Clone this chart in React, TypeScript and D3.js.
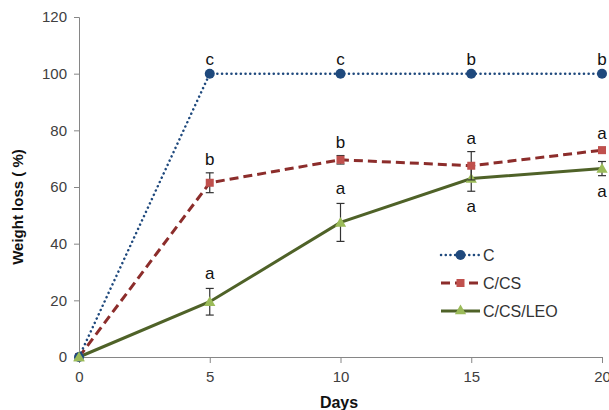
import { useRef, useEffect } from 'react';
import * as d3 from 'd3';

// data
const days = [0, 5, 10, 15, 20];
const cValues = [0, 100, 100, 100, 100];
const csValues = [0, 61.5, 69.6, 67.5, 73];
const csErrors = [0, 3.5, 1.5, 5, 1];
const leoValues = [0, 19.5, 47.5, 63, 66.5];
const leoErrors = [0, 4.7, 6.7, 4.5, 2.5];
const cLetters = ['', 'c', 'c', 'b', 'b'];
const csLetters = ['', 'b', 'b', 'a', 'a'];
const leoLetters = ['', 'a', 'a', 'a', 'a'];
const leoLetterSide = ['', 'above', 'above', 'below', 'below'];
const yTicks = [0, 20, 40, 60, 80, 100, 120];
const xTicks = [0, 5, 10, 15, 20];
const legendNames = ['C', 'C/CS', 'C/CS/LEO'];

const W = 609;
const H = 410;
const FONT = '"Liberation Sans", Arial, sans-serif';

const navy = '#1F497D';
const darkRed = '#8C2D2B';
const redMark = '#C0504D';
const olive = '#4F6228';
const lightGreen = '#9BBB59';

const x = d3.scaleLinear().domain([0, 20]).range([79, 602]);
const y = d3.scaleLinear().domain([0, 120]).range([357, 17]);

const lineGen = d3.line<number>().x((_, i) => x(days[i])).y(d => y(d));

const triangle = d3.symbol().type(d3.symbolTriangle).size(55)();

const App = () => {
  const xAxisRef = useRef<SVGGElement>(null);
  const yAxisRef = useRef<SVGGElement>(null);

  useEffect(() => {
    const style = (g: d3.Selection<SVGGElement, unknown, null, undefined>) => {
      g.selectAll('path').attr('stroke', '#868686').attr('stroke-width', 1);
      g.selectAll('line').attr('stroke', '#868686');
      g.selectAll('text')
        .attr('fill', '#404040')
        .style('font-family', FONT)
        .style('font-size', '15px');
    };
    const xg = d3.select(xAxisRef.current!);
    xg.call(d3.axisBottom(x).tickValues(xTicks).tickSize(6).tickPadding(8).tickSizeOuter(6));
    style(xg);
    const yg = d3.select(yAxisRef.current!);
    yg.call(d3.axisLeft(y).tickValues(yTicks).tickSize(5).tickPadding(7).tickSizeOuter(5));
    style(yg);
  }, []);

  const errBar = (vals: number[], errs: number[], key: string) =>
    vals.map((v, i) =>
      errs[i] > 0 ? (
        <g key={key + i} stroke="#333" strokeWidth={1.2}>
          <line x1={x(days[i])} x2={x(days[i])} y1={y(v - errs[i])} y2={y(v + errs[i])} />
          <line x1={x(days[i]) - 4} x2={x(days[i]) + 4} y1={y(v + errs[i])} y2={y(v + errs[i])} />
          <line x1={x(days[i]) - 4} x2={x(days[i]) + 4} y1={y(v - errs[i])} y2={y(v - errs[i])} />
        </g>
      ) : null
    );

  const letterStyle = { fontFamily: FONT, fontSize: 17, fill: '#111' };

  return (
    <svg width={W} height={H} style={{ position: 'absolute', left: 0, top: 0 }}>
      <rect width={W} height={H} fill="#fff" />
      <g ref={xAxisRef} transform={`translate(0,${y(0)})`} />
      <g ref={yAxisRef} transform={`translate(${x(0)},0)`} />

      {/* C/CS/LEO */}
      <path d={lineGen(leoValues)!} fill="none" stroke={olive} strokeWidth={3} />
      {errBar(leoValues, leoErrors, 'le')}
      {leoValues.map((v, i) => (
        <path key={'lt' + i} d={triangle} transform={`translate(${x(days[i])},${y(v) + 1})`} fill={lightGreen} />
      ))}

      {/* C/CS */}
      <path d={lineGen(csValues)!} fill="none" stroke={darkRed} strokeWidth={3} strokeDasharray="9,5" />
      {errBar(csValues, csErrors, 'ce')}
      {csValues.map((v, i) => (
        <rect key={'cs' + i} x={x(days[i]) - 4} y={y(v) - 4} width={8} height={8} fill={redMark} />
      ))}

      {/* C */}
      <path d={lineGen(cValues)!} fill="none" stroke={navy} strokeWidth={2.5} strokeDasharray="0.1,4.6" strokeLinecap="round" />
      {cValues.map((v, i) => (
        <circle key={'c' + i} cx={x(days[i])} cy={y(v)} r={5} fill={navy} />
      ))}

      {/* zero point sits on top */}
      <path d={triangle} transform={`translate(${x(0)},${y(0) + 1})`} fill={lightGreen} />

      {/* significance letters */}
      {cLetters.map((t, i) => (
        <text key={'cl' + i} x={x(days[i])} y={y(cValues[i]) - 9} textAnchor="middle" style={letterStyle}>{t}</text>
      ))}
      {csLetters.map((t, i) => (
        <text key={'sl' + i} x={x(days[i])} y={y(csValues[i] + csErrors[i]) - 8} textAnchor="middle" style={letterStyle}>{t}</text>
      ))}
      {leoLetters.map((t, i) => (
        <text
          key={'ll' + i}
          x={x(days[i])}
          y={leoLetterSide[i] === 'below' ? y(leoValues[i] - leoErrors[i]) + 21 : y(leoValues[i] + leoErrors[i]) - 9}
          textAnchor="middle"
          style={letterStyle}
        >
          {t}
        </text>
      ))}

      {/* legend */}
      <g transform="translate(441,255)">
        <line x1={0} x2={39} y1={0} y2={0} stroke={navy} strokeWidth={2.5} strokeDasharray="0.1,4.6" strokeLinecap="round" />
        <circle cx={19.5} cy={0} r={5} fill={navy} />
        <line x1={0} x2={39} y1={28} y2={28} stroke={darkRed} strokeWidth={3} strokeDasharray="9,5" />
        <rect x={15.5} y={24} width={8} height={8} fill={redMark} />
        <line x1={0} x2={39} y1={56} y2={56} stroke={olive} strokeWidth={3} />
        <path d={triangle} transform="translate(19.5,56)" fill={lightGreen} />
        {legendNames.map((n, i) => (
          <text key={n} x={42} y={i * 28 + 6} style={{ fontFamily: FONT, fontSize: 16, fill: '#333' }}>{n}</text>
        ))}
      </g>

      {/* axis titles */}
      <text x={339} y={408} textAnchor="middle" style={{ fontFamily: FONT, fontSize: 16, fontWeight: 'bold', fill: '#111' }}>Days</text>
      <text
        transform="translate(23,207) rotate(-90)"
        textAnchor="middle"
        style={{ fontFamily: FONT, fontSize: 15, fontWeight: 'bold', fill: '#111' }}
      >
        Weight loss ( %)
      </text>
    </svg>
  );
};

export default App;
